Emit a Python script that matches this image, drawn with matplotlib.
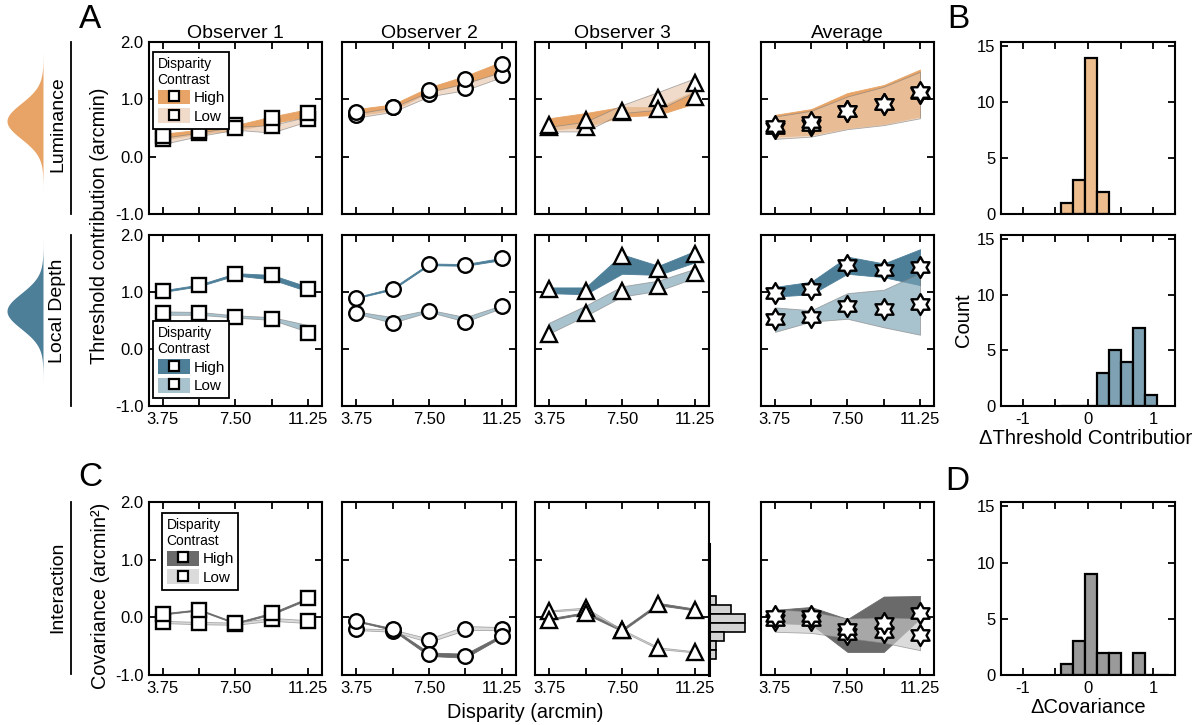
import matplotlib.pyplot as plt
from matplotlib.patches import Patch
from matplotlib.lines import Line2D
from matplotlib.path import Path
import numpy as np

plt.rcParams['font.family'] = ['Liberation Sans', 'DejaVu Sans']

disparity = [3.75, 5.625, 7.5, 9.375, 11.25]
observers = ['Observer 1', 'Observer 2', 'Observer 3', 'Average']

# luminance row (one list per observer, last one is the average)
lum_high = [[0.36, 0.44, 0.50, 0.67, 0.77],
            [0.78, 0.86, 1.16, 1.35, 1.61],
            [0.55, 0.64, 0.80, 0.83, 1.04],
            [0.53, 0.61, 0.80, 0.92, 1.12]]
lum_low = [[0.31, 0.42, 0.55, 0.54, 0.66],
           [0.72, 0.86, 1.09, 1.19, 1.43],
           [0.52, 0.51, 0.78, 1.03, 1.28],
           [0.50, 0.56, 0.79, 0.91, 1.11]]
lum_high_lo = [[0.30, 0.40, 0.46, 0.58, 0.70],
               [0.72, 0.81, 1.12, 1.28, 1.48],
               [0.47, 0.52, 0.70, 0.73, 0.93],
               [0.35, 0.38, 0.50, 0.57, 0.70]]
lum_high_hi = [[0.40, 0.47, 0.55, 0.70, 0.83],
               [0.83, 0.91, 1.21, 1.41, 1.66],
               [0.67, 0.76, 0.87, 0.86, 1.15],
               [0.73, 0.83, 1.11, 1.25, 1.52]]
lum_low_lo = [[0.22, 0.36, 0.47, 0.42, 0.62],
              [0.68, 0.78, 1.05, 1.16, 1.39],
              [0.44, 0.44, 0.76, 0.82, 1.13],
              [0.31, 0.35, 0.48, 0.55, 0.67]]
lum_low_hi = [[0.33, 0.42, 0.52, 0.55, 0.70],
              [0.75, 0.86, 1.13, 1.28, 1.48],
              [0.52, 0.61, 0.90, 1.13, 1.37],
              [0.70, 0.80, 1.05, 1.22, 1.48]]

# local depth row
dep_high = [[1.02, 1.12, 1.31, 1.29, 1.06],
            [0.90, 1.06, 1.49, 1.48, 1.59],
            [1.05, 1.02, 1.63, 1.40, 1.67],
            [0.99, 1.06, 1.48, 1.39, 1.44]]
dep_low = [[0.64, 0.63, 0.57, 0.53, 0.28],
           [0.64, 0.46, 0.67, 0.48, 0.75],
           [0.27, 0.64, 1.01, 1.11, 1.34],
           [0.53, 0.57, 0.75, 0.71, 0.79]]
dep_high_lo = [[1.00, 1.10, 1.29, 1.22, 1.01],
               [0.89, 1.04, 1.47, 1.46, 1.56],
               [0.98, 0.96, 1.32, 1.30, 1.52],
               [0.92, 0.96, 1.32, 1.26, 1.12]]
dep_high_hi = [[1.03, 1.13, 1.33, 1.30, 1.09],
               [0.91, 1.07, 1.50, 1.49, 1.60],
               [1.08, 1.08, 1.66, 1.46, 1.72],
               [1.09, 1.18, 1.62, 1.50, 1.75]]
dep_low_lo = [[0.60, 0.60, 0.55, 0.51, 0.30],
              [0.62, 0.46, 0.65, 0.48, 0.72],
              [0.27, 0.58, 0.92, 1.02, 1.25],
              [0.30, 0.48, 0.53, 0.38, 0.25]]
dep_low_hi = [[0.66, 0.65, 0.59, 0.56, 0.42],
              [0.66, 0.56, 0.69, 0.56, 0.77],
              [0.46, 0.76, 1.10, 1.20, 1.41],
              [0.73, 0.68, 0.98, 1.04, 1.33]]

# interaction (covariance) row
cov_high = [[0.06, 0.13, -0.10, 0.07, 0.33],
            [-0.06, -0.20, -0.64, -0.67, -0.32],
            [-0.04, 0.07, -0.22, 0.23, 0.13],
            [0.02, 0.03, -0.21, -0.09, 0.08]]
cov_low = [[-0.08, -0.10, -0.11, -0.03, -0.07],
           [-0.21, -0.23, -0.40, -0.20, -0.20],
           [0.11, 0.16, -0.22, -0.53, -0.60],
           [-0.04, -0.05, -0.29, -0.26, -0.30]]
cov_high_lo = [[0.05, 0.12, -0.11, 0.05, 0.31],
               [-0.07, -0.22, -0.67, -0.70, -0.34],
               [-0.05, 0.06, -0.24, 0.21, 0.12],
               [-0.10, -0.12, -0.60, -0.60, -0.02]]
cov_high_hi = [[0.07, 0.14, -0.09, 0.08, 0.34],
               [-0.05, -0.19, -0.61, -0.63, -0.30],
               [-0.02, 0.09, -0.20, 0.25, 0.15],
               [0.13, 0.18, -0.03, 0.36, 0.37]]
cov_low_lo = [[-0.10, -0.12, -0.13, -0.06, -0.10],
              [-0.22, -0.25, -0.43, -0.22, -0.22],
              [0.10, 0.14, -0.24, -0.55, -0.61],
              [-0.25, -0.27, -0.36, -0.44, -0.57]]
cov_low_hi = [[-0.06, -0.08, -0.09, -0.01, -0.05],
              [-0.19, -0.21, -0.37, -0.15, -0.17],
              [0.12, 0.17, -0.21, -0.52, -0.59],
              [0.14, 0.10, -0.02, 0.00, -0.02]]

# histograms of the high - low difference
hist_bin_start = -0.42
hist_bin_width = 0.185
lum_counts = [1, 3, 14, 2]
dep_counts = [0, 0, 0, 3, 5, 4, 7, 1]
cov_counts = [1, 3, 9, 2, 2, 0, 2, 0, 0]

# marginal histogram next to observer 3 covariance
side_bin_top = 0.37
side_bin_height = 0.155
side_counts = [1, 3, 5, 5, 2, 1, 1]

W, H = 1192, 725
fig = plt.figure(figsize=(W / 100, H / 100), dpi=100)


def px_axes(l, t, r, b):
    return fig.add_axes([l / W, 1 - b / H, (r - l) / W, (b - t) / H])


ang = np.deg2rad(90 + 30 * np.arange(12))
rad = np.where(np.arange(12) % 2 == 0, 1.0, 0.58)
star_verts = np.column_stack([rad * np.cos(ang), rad * np.sin(ang)])
star = Path(np.vstack([star_verts, star_verts[:1]]), closed=True)

markers = ['s', 'o', '^', star]
msizes = [9.5, 10.5, 12, 15]
low_alpha = 0.65

rows = [
    dict(high=lum_high, low=lum_low, hlo=lum_high_lo, hhi=lum_high_hi,
         llo=lum_low_lo, lhi=lum_low_hi, c_high='#E8A466', c_low='#E8C9AF',
         top=42, bottom=214),
    dict(high=dep_high, low=dep_low, hlo=dep_high_lo, hhi=dep_high_hi,
         llo=dep_low_lo, lhi=dep_low_hi, c_high='#4D7F99', c_low='#7BA3B5',
         top=235, bottom=406),
    dict(high=cov_high, low=cov_low, hlo=cov_high_lo, hhi=cov_high_hi,
         llo=cov_low_lo, lhi=cov_low_hi, c_high='#6A6A6A', c_low='#C9C9C9',
         top=502, bottom=675),
]
col_x = [(149, 322), (342, 516), (535, 709), (761, 934)]
hist_x = (1001, 1175)


def style_axes(ax):
    for s in ax.spines.values():
        s.set_linewidth(1.5)
    ax.tick_params(direction='in', length=5, width=1.3, top=True, right=True,
                   labelsize=12, pad=4)


axes_grid = []
for r, row in enumerate(rows):
    axes_row = []
    for c, (l, rr) in enumerate(col_x):
        ax = px_axes(l, row['top'], rr, row['bottom'])
        ax.fill_between(disparity, row['hlo'][c], row['hhi'][c],
                        facecolor=row['c_high'], edgecolor=row['c_high'], lw=0.6, zorder=1)
        ax.fill_between(disparity, row['llo'][c], row['lhi'][c],
                        facecolor=row['c_low'], edgecolor='#808080', lw=0.6,
                        alpha=low_alpha, zorder=2)
        for vals in (row['low'][c], row['high'][c]):
            ax.plot(disparity, vals, ls='none', marker=markers[c], ms=msizes[c],
                    mfc='white', mec='black', mew=1.7, zorder=4, clip_on=False)
        ax.set_xlim(3.03, 11.97)
        ax.set_ylim(-1, 2)
        ax.set_xticks(disparity)
        ax.set_yticks([-1, 0, 1, 2])
        if c == 0:
            ax.set_yticklabels(['-1.0', '0.0', '1.0', '2.0'])
        else:
            ax.set_yticklabels([])
        if r == 0:
            ax.set_xticklabels([])
            ax.set_title(observers[c], fontsize=14, pad=3)
        else:
            ax.set_xticklabels(['3.75', '', '7.50', '', '11.25'])
        style_axes(ax)
        axes_row.append(ax)
    axes_grid.append(axes_row)

# legends
leg_specs = [(0, 'upper left', (0.023, 0.942)),
             (1, 'lower left', (0.023, 0.047)),
             (2, 'upper left', (0.075, 0.936))]
for r, loc, anchor in leg_specs:
    row = rows[r]
    mk = Line2D([], [], ls='none', marker='s', ms=7.5, mfc='white', mec='black', mew=1.6)
    handles = [(Patch(facecolor=row['c_high']), mk),
               (Patch(facecolor=row['c_low'], alpha=low_alpha), mk)]
    leg = axes_grid[r][0].legend(handles, ['High', 'Low'], title='Disparity\nContrast',
                                 loc=loc, bbox_to_anchor=anchor, borderaxespad=0,
                                 fontsize=11, title_fontsize=10, fancybox=False,
                                 edgecolor='black', framealpha=1, borderpad=0.3,
                                 handlelength=2.1, handleheight=1.1, handletextpad=0.25,
                                 labelspacing=0.2, alignment='left')
    leg.get_frame().set_linewidth(1.3)
    leg.set_zorder(10)

# difference histograms
hist_specs = [(rows[0], lum_counts, '#EDBD8D'),
              (rows[1], dep_counts, '#7EA2B4'),
              (rows[2], cov_counts, '#9A9A9A')]
for i, (row, counts, color) in enumerate(hist_specs):
    ax = px_axes(hist_x[0], row['top'], hist_x[1], row['bottom'])
    lefts = [hist_bin_start + k * hist_bin_width for k in range(len(counts))]
    ax.bar(lefts, counts, width=hist_bin_width, align='edge', color=color,
           edgecolor='black', lw=1.6, zorder=2)
    ax.set_xlim(-1.33, 1.33)
    ax.set_ylim(0, 15.4)
    ax.set_xticks([-1, -0.5, 0, 0.5, 1])
    ax.set_yticks([0, 5, 10, 15])
    if i == 0:
        ax.set_xticklabels([])
    else:
        ax.set_xticklabels(['-1', '', '0', '', '1'])
    style_axes(ax)
    if i == 1:
        ax.set_ylabel('Count', fontsize=14.5, labelpad=3)
        ax.set_xlabel('\u0394Threshold Contribution', fontsize=14.5, labelpad=2)
    if i == 2:
        ax.set_xlabel('\u0394Covariance', fontsize=14.5, labelpad=2)

# marginal histogram for observer 3 covariance
ax_side = px_axes(709, 502, 752, 675)
side_bottoms = [side_bin_top - (k + 1) * side_bin_height for k in range(len(side_counts))]
ax_side.barh(side_bottoms, side_counts, height=side_bin_height, align='edge',
             color='#D3D3D3', edgecolor='black', lw=1.2)
ax_side.set_ylim(-1, 2)
ax_side.set_xlim(0, 5.9)
ax_side.axis('off')
ax_side.plot([0, 0], [-1, 1.27], color='black', lw=2.2, clip_on=False)

# row labels and separators on the left
for text, ymid, t, b in [('Luminance', 124, 42, 214),
                         ('Local Depth', 311, 235, 406),
                         ('Interaction', 587, 502, 674)]:
    fig.text(58 / W, 1 - ymid / H, text, rotation=90, ha='center', va='center',
             fontsize=14)
    fig.add_artist(Line2D([71 / W, 71 / W], [1 - t / H, 1 - b / H], color='black', lw=1.3))

# small gaussian icons
gy = np.linspace(-4, 4, 200)
gx = np.exp(-gy ** 2 / 2)
for color, t, b in [('#E8A466', 50, 192), ('#4D7F99', 240, 382)]:
    axg = px_axes(7, t, 43, b)
    axg.fill_betweenx(gy, 1 - gx, 1, color=color, lw=0)
    axg.set_xlim(0, 1)
    axg.set_ylim(-4, 4)
    axg.axis('off')

fig.text(100 / W, 1 - 226 / H, 'Threshold contribution (arcmin)', rotation=90,
         ha='center', va='center', fontsize=14.3)
fig.text(100 / W, 1 - 596 / H, 'Covariance (arcmin\u00b2)', rotation=90,
         ha='center', va='center', fontsize=14.3)
fig.text(525 / W, 1 - 713 / H, 'Disparity (arcmin)', ha='center', va='center',
         fontsize=14.3)

for letter, x, y in [('A', 90, 20), ('B', 958, 20), ('C', 90, 478), ('D', 957, 482)]:
    fig.text(x / W, 1 - y / H, letter, ha='center', va='center', fontsize=24)

fig.savefig('out.png', dpi=100)
